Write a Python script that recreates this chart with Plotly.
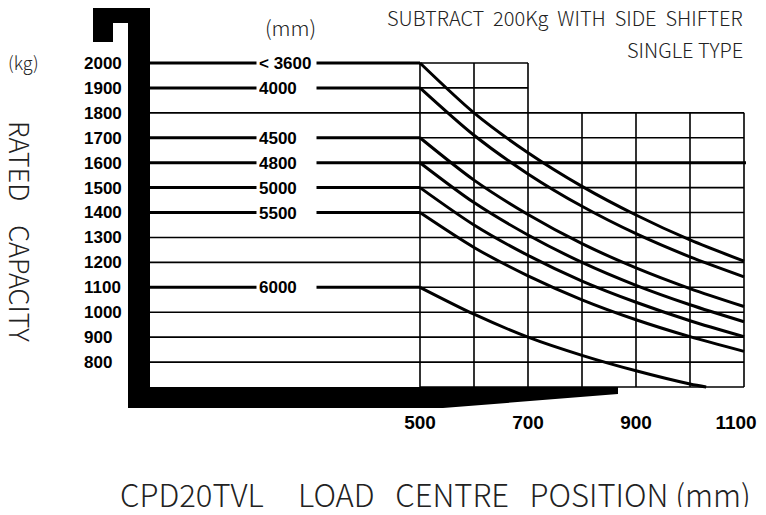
import plotly.graph_objects as go

# ---------------- data ----------------
load_centre = [500, 600, 700, 800, 900, 1000, 1100]          # mm
load_centre_6000 = [500, 600, 700, 800, 900, 1000, 1030]     # 6000 curve ends at 700 kg
mast_labels = ["< 3600", "4000", "4500", "4800", "5000", "5500", "6000"]
rated_caps = [2000, 1900, 1700, 1600, 1500, 1400, 1100]     # kg at 500 mm

cap_3600 = [2000, 1800, 1640, 1505, 1390, 1290, 1205]
cap_4000 = [1900, 1710, 1555, 1425, 1315, 1222, 1142]
cap_4500 = [1700, 1530, 1392, 1275, 1178, 1095, 1023]
cap_4800 = [1600, 1440, 1310, 1200, 1108, 1030, 962]
cap_5000 = [1500, 1350, 1228, 1125, 1040, 966, 902]
cap_5500 = [1400, 1260, 1146, 1050, 970, 902, 843]
cap_6000 = [1100, 992, 900, 827, 765, 712, 700]

y_ticks = [800, 900, 1000, 1100, 1200, 1300, 1400, 1500, 1600, 1700, 1800, 1900, 2000]
x_ticks = [500, 700, 900, 1100]
grid_x_upper = [500, 600, 700]              # columns reaching 2000 kg
grid_x_lower = [800, 900, 1000, 1100]       # columns reaching 1800 kg
grid_y = [700, 800, 900, 1000, 1100, 1200, 1300, 1400, 1500, 1600, 1700, 1800, 1900, 2000]

# ---------------- pixel helpers (layout only) ----------------
PAGE_W, PAGE_H = 766, 515
OFF = 8                                  # default page body margin
W, H = PAGE_W - OFF, PAGE_H - 2 * OFF
def X(px):
    return 500 + (px - 420) * 100 / 54
def Y(py):
    return 2000 - (py - 63) * 1300 / 324
def PX(px):
    return (px - OFF) / W
def PY(py):
    return 1 - (py - OFF) / H

NUMFONT = "Liberation Sans, Arial, sans-serif"
TXTFONT = "Noto Sans CJK SC, Noto Sans, sans-serif"

fig = go.Figure()
series = [cap_3600, cap_4000, cap_4500, cap_4800, cap_5000, cap_5500, cap_6000]
shapes = []

# grid
for gx in grid_x_upper:
    shapes.append(dict(type="line", x0=gx, x1=gx, y0=700, y1=2000, line=dict(color="black", width=1.6)))
for gx in grid_x_lower:
    shapes.append(dict(type="line", x0=gx, x1=gx, y0=700, y1=1800, line=dict(color="black", width=1.6)))
for gy in grid_y:
    if gy > 1800:
        x0, x1 = 500, 700
    elif gy in rated_caps or gy == 700:
        x0, x1 = 500, 1100
    else:
        x0, x1 = 0, 1100
    shapes.append(dict(type="line", x0=x0, x1=x1, y0=gy, y1=gy, line=dict(color="black", width=1.6)))
# highlighted 1600 line across the grid
shapes.append(dict(type="line", x0=500, x1=X(746), y0=1600, y1=1600, line=dict(color="black", width=3)))

# mast + fork silhouette
pts = [(93, 7), (150, 7), (150, 387), (618, 387), (618, 394), (443, 408), (128, 408),
       (128, 23), (113, 23), (113, 42), (93, 42)]
path = "M " + " L ".join(f"{X(a):.2f},{Y(b):.2f}" for a, b in pts) + " Z"
shapes.append(dict(type="path", path=path, fillcolor="black", line=dict(color="black", width=0), layer="above"))

# curves
for i, (cap0, vals) in enumerate(zip(rated_caps, series)):
    xs = load_centre_6000 if i == len(series) - 1 else load_centre
    fig.add_trace(go.Scatter(x=[0, xs[0]], y=[cap0, vals[0]], mode="lines",
                             line=dict(color="black", width=3), hoverinfo="skip"))
    fig.add_trace(go.Scatter(x=xs, y=vals, mode="lines",
                             line=dict(color="black", width=3, shape="spline", smoothing=0.8),
                             hoverinfo="skip"))

annotations = []
for lab, cap0 in zip(mast_labels, rated_caps):
    annotations.append(dict(x=X(286.5), y=cap0, xref="x", yref="y", text="<b>%s</b>" % lab.replace("<", "&lt;"),
                            showarrow=False, bgcolor="white", width=55, height=18, align="left",
                            borderpad=2, font=dict(family=NUMFONT, size=17, color="black")))

def ptxt(text, px, py, size, xanchor="center", angle=0):
    annotations.append(dict(x=PX(px), y=PY(py), xref="paper", yref="paper", text=text, showarrow=False,
                            xanchor=xanchor, yanchor="middle", textangle=angle,
                            font=dict(family=TXTFONT, size=size, color="#222", weight=300)))

S2 = "&nbsp;&nbsp;"
S4 = "&nbsp;" * 4
ptxt("SUBTRACT" + S2 + "200Kg" + S2 + "WITH" + S2 + "SIDE" + S2 + "SHIFTER", 745, 17, 20, xanchor="right")
ptxt("SINGLE" + "&nbsp;" + "TYPE", 745, 50, 20, xanchor="right")
ptxt("(mm)", 290, 27, 21)
ptxt("(kg)", 23, 62, 18)
ptxt("RATED" + S4 + "CAPACITY", 21, 231, 27, angle=90)
ptxt("CPD20TVL" + "&nbsp;" * 5 + "LOAD" + "&nbsp;" * 3 + "CENTRE" + "&nbsp;" * 3 + "POSITION&nbsp;(mm)",
     435, 493, 31)

# x tick labels; the last one is nudged left so it stays inside the window
x_ticktext = ["<b>%d</b>" % v for v in x_ticks]
x_ticktext[-1] = x_ticktext[-1] + "&nbsp;" * 3

fig.update_layout(
    width=W, height=H, margin=dict(l=0, r=0, t=0, b=0, autoexpand=False),
    paper_bgcolor="white", plot_bgcolor="white", showlegend=False,
    shapes=shapes, annotations=annotations,
    xaxis=dict(range=[X(OFF), X(OFF + W)], showgrid=False, zeroline=False, showline=False,
               tickvals=x_ticks, ticktext=x_ticktext, ticks="", automargin=False,
               anchor="free", position=PY(409), ticklabeloverflow="allow",
               tickfont=dict(family=NUMFONT, size=19, color="black")),
    yaxis=dict(range=[Y(OFF + H), Y(OFF)], showgrid=False, zeroline=False, showline=False,
               tickvals=y_ticks, ticktext=["<b>%d</b>" % v for v in y_ticks], ticks="", automargin=False,
               anchor="free", position=PX(80), ticklabelposition="inside",
               tickfont=dict(family=NUMFONT, size=17, color="black")),
)
fig.write_html("out.html")
